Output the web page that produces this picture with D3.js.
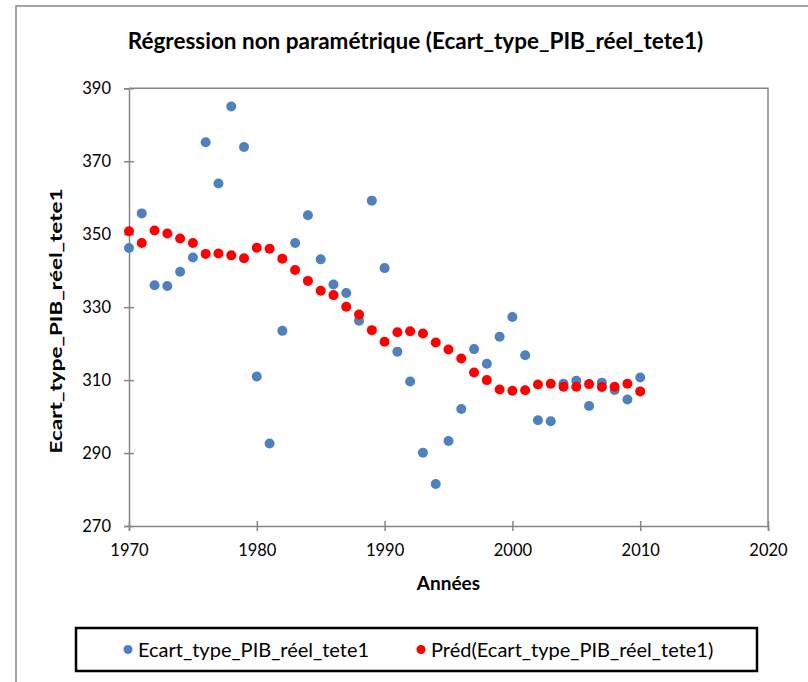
<!DOCTYPE html>
<html>
<head>
<meta charset="utf-8">
<script src="https://cdn.jsdelivr.net/npm/d3@7"></script>
<style>
  body { margin: 0; background: #fff; }
  svg text { font-family: Lato, "Open Sans", sans-serif; fill: #000; }
</style>
</head>
<body>
<div id="chart"></div>
<script>
// years on the x axis
var years = [1970, 1971, 1972, 1973, 1974, 1975, 1976, 1977, 1978, 1979,
             1980, 1981, 1982, 1983, 1984, 1985, 1986, 1987, 1988, 1989,
             1990, 1991, 1992, 1993, 1994, 1995, 1996, 1997, 1998, 1999,
             2000, 2001, 2002, 2003, 2004, 2005, 2006, 2007, 2008, 2009, 2010];

// observed values (blue)
var observed = [346.2, 355.7, 336.0, 335.8, 339.7, 343.6, 375.2, 363.9, 385.0, 373.9,
                311.0, 292.6, 323.5, 347.6, 355.2, 343.1, 336.2, 333.9, 326.3, 359.2,
                340.7, 317.8, 309.6, 290.1, 281.5, 293.3, 302.1, 318.5, 314.5, 321.9,
                327.3, 316.8, 299.0, 298.7, 309.0, 309.8, 302.9, 309.3, 307.3, 304.7, 310.7];

// predicted values (red)
var predicted = [350.8, 347.6, 351.0, 350.2, 348.8, 347.6, 344.6, 344.7, 344.2, 343.4,
                 346.3, 346.0, 343.3, 340.2, 337.2, 334.5, 333.3, 330.1, 328.0, 323.7,
                 320.5, 323.1, 323.4, 322.8, 320.3, 318.4, 315.9, 312.1, 310.0, 307.4,
                 307.1, 307.2, 308.8, 309.0, 308.2, 308.2, 308.9, 308.1, 308.2, 309.0, 306.9];

var xTicks = [1970, 1980, 1990, 2000, 2010, 2020];
var yTicks = [270, 290, 310, 330, 350, 370, 390];

var seriesNames = ["Ecart_type_PIB_réel_tete1", "Préd(Ecart_type_PIB_réel_tete1)"];
var title = "Régression non paramétrique (Ecart_type_PIB_réel_tete1)";

var w = 808, h = 682;
var plotL = 129, plotR = 768, plotT = 88.3, plotB = 526;
var blue = "#4f81bd", red = "#ff0000", gray = "#868686";

var svg = d3.select("#chart").append("svg")
  .attr("width", w)
  .attr("height", h);

// outer chart border
svg.append("rect")
  .attr("x", 16).attr("y", 6)
  .attr("width", w).attr("height", h)
  .attr("fill", "none")
  .attr("stroke", gray)
  .attr("stroke-width", 1.5);

var x = d3.scaleLinear().domain([1970, 2020]).range([plotL, plotR]);
var y = d3.scaleLinear().domain([270, 390]).range([plotB, plotT]);

// plot area border (top + right)
svg.append("path")
  .attr("d", "M" + plotL + "," + plotT + "H" + plotR + "V" + plotB)
  .attr("fill", "none")
  .attr("stroke", gray)
  .attr("stroke-width", 1.5);

var yAxis = svg.append("g")
  .attr("transform", "translate(" + plotL + ",0)")
  .call(d3.axisLeft(y).tickValues(yTicks).tickSize(5).tickPadding(13));
yAxis.selectAll(".tick line").attr("x1", 5);

var xAxis = svg.append("g")
  .attr("transform", "translate(0," + plotB + ")")
  .call(d3.axisBottom(x).tickValues(xTicks).tickFormat(d3.format("d")).tickSize(5).tickPadding(13));
xAxis.selectAll(".tick line").attr("y1", -5);

svg.selectAll(".domain, .tick line")
  .attr("stroke", gray)
  .attr("stroke-width", 1.5);
svg.selectAll(".tick text")
  .attr("font-size", "16.5px")
  .style("font-family", "Lato, sans-serif")
  .attr("fill", "#000");

// observed points
svg.append("g").selectAll("circle")
  .data(observed)
  .enter()
  .append("circle")
  .attr("cx", function(d, i) { return x(years[i]); })
  .attr("cy", function(d) { return y(d); })
  .attr("r", 5)
  .attr("fill", blue);

// predicted points
svg.append("g").selectAll("circle")
  .data(predicted)
  .enter()
  .append("circle")
  .attr("cx", function(d, i) { return x(years[i]); })
  .attr("cy", function(d) { return y(d); })
  .attr("r", 5)
  .attr("fill", red);

// titles
svg.append("text")
  .attr("x", 415.5).attr("y", 49)
  .attr("text-anchor", "middle")
  .attr("font-size", "22.5px")
  .attr("font-weight", "bold")
  .text(title);

svg.append("text")
  .attr("x", (plotL + plotR) / 2).attr("y", 590)
  .attr("text-anchor", "middle")
  .attr("font-size", "19px")
  .attr("font-weight", "bold")
  .text("Années");

svg.append("text")
  .attr("transform", "translate(62,321) rotate(-90)")
  .attr("text-anchor", "middle")
  .attr("font-size", "17px")
  .attr("font-weight", "bold")
  .attr("textLength", 265)
  .attr("lengthAdjust", "spacingAndGlyphs")
  .text(seriesNames[0]);

// legend
svg.append("rect")
  .attr("x", 76).attr("y", 628)
  .attr("width", 681).attr("height", 43)
  .attr("fill", "#fff")
  .attr("stroke", "#000")
  .attr("stroke-width", 2.5);

var legendItems = [
  { name: seriesNames[0], color: blue, x: 128 },
  { name: seriesNames[1], color: red, x: 421 }
];
var lg = svg.append("g").selectAll("g")
  .data(legendItems)
  .enter()
  .append("g")
  .attr("transform", function(d) { return "translate(" + d.x + ",649.5)"; });
lg.append("circle")
  .attr("r", 4.5)
  .attr("fill", function(d) { return d.color; });
lg.append("text")
  .attr("x", 10)
  .attr("dy", "0.35em")
  .attr("font-size", "20px")
  .text(function(d) { return d.name; });
</script>
</body>
</html>
